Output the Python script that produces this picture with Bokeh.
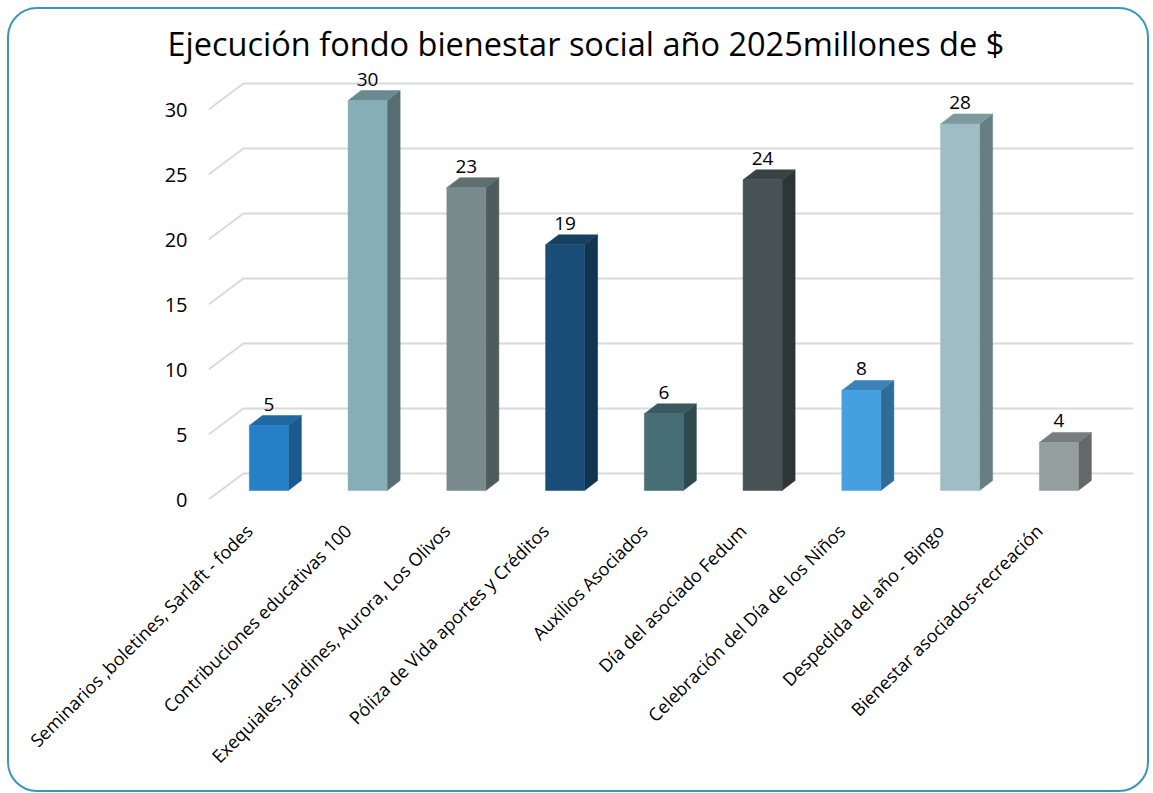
import numpy as np
from bokeh.plotting import figure
from bokeh.models import Range1d, FixedTicker, Title
from bokeh.core.properties import value
from bokeh.embed import file_html
from bokeh.resources import INLINE

# ---- data ----
categories = [
    "Seminarios ,boletines, Sarlaft - fodes",
    "Contribuciones educativas 100",
    "Exequiales. Jardines, Aurora, Los Olivos",
    "Póliza de Vida aportes y Créditos",
    "Auxilios Asociados",
    "Día del asociado Fedum",
    "Celebración del Día de los Niños",
    "Despedida del año - Bingo",
    "Bienestar asociados-recreación",
]
values = [5.0, 30.0, 23.3, 18.9, 5.9, 23.9, 7.7, 28.2, 3.7]
y_ticks = [0, 5, 10, 15, 20, 25, 30]
front_colors = ["#2680C8", "#85AEB7", "#788A8C", "#1A4E78", "#466E74",
                "#475254", "#469FE0", "#9EBDC4", "#959E9E"]
side_colors = ["#1B5A8C", "#566E73", "#4F5C5C", "#11344F", "#2F4A4E",
               "#2E3536", "#2F6B96", "#677E83", "#636969"]
top_colors = ["#1F68A4", "#6A8A90", "#5F6F70", "#163F60", "#3A5A5F",
              "#394244", "#3A82B8", "#7E9A9F", "#757D7D"]
title_text = "Ejecución fondo bienestar social año 2025millones de $"

# ---- geometry (style constants) ----
X0, X1 = -0.411, 8.956
Y0, Y1 = 0.0, 33.54
BAR_SHIFT = 0.20
BAR_W = 0.395
BAR_DX, BAR_DY = 0.132, 0.77
FLOOR = 0.69
FLOOR_DX, FLOOR_DY = 0.354, 2.0
FONT = "Open Sans"

p = figure(frame_width=925, frame_height=436,
           min_border_left=199, min_border_right=14,
           min_border_top=54, min_border_bottom=291,
           x_range=Range1d(X0, X1), y_range=Range1d(Y0, Y1),
           output_backend="svg", toolbar_location=None, tools="")
p.styles = {"border": "2px solid #3B95C1", "border-radius": "30px",
            "margin": "7px 0 0 7px"}
p.border_fill_color = None
p.background_fill_color = None
p.outline_line_color = None
p.xgrid.visible = False
p.ygrid.visible = False

t = Title(text=title_text, text_font=FONT, text_font_size="32.5px",
          text_font_style="normal", text_color="#000000", align="left",
          offset=-41, standoff=-5)
p.add_layout(t, "above")

# gridlines (front diagonal + back wall)
gx = [[X0, X0 + FLOOR_DX, X1] for _ in y_ticks]
gy = [[v, v + FLOOR_DY, v + FLOOR_DY] for v in y_ticks]
p.multi_line(gx, gy, line_color="#D9D9D9", line_width=2)

idx = np.arange(len(categories))
vals = np.array(values)
cx = idx + BAR_SHIFT
left = cx - BAR_W / 2
right = cx + BAR_W / 2
bottom = np.full(len(vals), FLOOR)
top = FLOOR + vals

side_xs = [[r, r + BAR_DX, r + BAR_DX, r] for r in right]
side_ys = [[b, b + BAR_DY, tp + BAR_DY, tp] for b, tp in zip(bottom, top)]
top_xs = [[l, l + BAR_DX, r + BAR_DX, r] for l, r in zip(left, right)]
top_ys = [[tp, tp + BAR_DY, tp + BAR_DY, tp] for tp in top]

p.patches(side_xs, side_ys, fill_color=side_colors, line_color=side_colors, line_width=0.5)
p.patches(top_xs, top_ys, fill_color=top_colors, line_color=top_colors, line_width=0.5)
p.quad(left=left, right=right, bottom=bottom, top=top,
       fill_color=front_colors, line_color=front_colors, line_width=0.5)

labels = [f"{v:.0f}" for v in values]
p.text(x=cx, y=top + BAR_DY, text=labels, text_font=value(FONT),
       text_font_size="19px", text_align="center", text_baseline="bottom",
       text_color="#000000", y_offset=-5)

# axes
p.yaxis.ticker = FixedTicker(ticks=y_ticks)
p.yaxis.axis_line_color = None
p.yaxis.major_tick_line_color = None
p.yaxis.minor_tick_line_color = None
p.yaxis.major_tick_out = 0
p.yaxis.major_label_standoff = 21
p.yaxis.major_label_text_font = FONT
p.yaxis.major_label_text_font_size = "20px"
p.yaxis.major_label_text_color = "#000000"

p.xaxis.ticker = FixedTicker(ticks=list(range(len(categories))))
p.xaxis.major_label_overrides = {i: c for i, c in enumerate(categories)}
p.xaxis.major_label_orientation = np.pi / 4
p.xaxis.axis_line_color = None
p.xaxis.major_tick_line_color = None
p.xaxis.minor_tick_line_color = None
p.xaxis.major_tick_out = 0
p.xaxis.major_label_standoff = 28
p.xaxis.major_label_text_font = FONT
p.xaxis.major_label_text_font_size = "18px"
p.xaxis.major_label_text_color = "#000000"

open("out.html", "w").write(file_html(p, INLINE))
